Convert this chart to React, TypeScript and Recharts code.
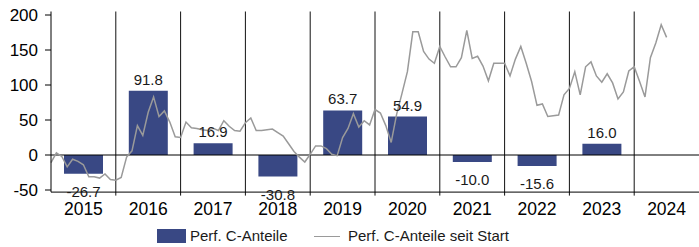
import React from "react";
import { ComposedChart, Bar, Line, XAxis, YAxis, ReferenceLine, LabelList } from "recharts";

const YEARS = ["2015", "2016", "2017", "2018", "2019", "2020", "2021", "2022", "2023", "2024"];
const PERF_C = [-26.7, 91.8, 16.9, -30.8, 63.7, 54.9, -10.0, -15.6, 16.0, null];
// monthly values, Jan 2015 .. Jul 2024
const PERF_SEIT_START = [
  -11, 3, -2, -17, -6, -9, -14, -31, -31, -33, -27, -35,
  -36, -32, -3, 6, 42, 28, 61, 83, 55, 63, 47, 26,
  25, 47, 39, 38, 36, 35, 38, 35, 49, 41, 35, 34,
  46, 53, 35, 35, 36, 37, 32, 27, 16, 5, -3, -10,
  1, 13, 13, 9, 1, -1, 25, 38, 59, 40, 49, 43,
  65, 60, 42, 18, 58, 88, 119, 176, 176, 148, 137, 131,
  155, 140, 126, 126, 139, 178, 138, 141, 127, 106, 131, 131,
  131, 113, 137, 155, 131, 105, 71, 73, 55, 56, 57, 86,
  95, 119, 86, 126, 133, 113, 104, 116, 103, 80, 90, 120,
  126, 105, 83, 139, 160, 186, 168,
];
const Y_TICKS = [-50, 0, 50, 100, 150, 200];
const BOUNDARIES = [1, 2, 3, 4, 5, 6, 7, 8, 9];

const barData = YEARS.map((year, i) => ({ year, perf: PERF_C[i] }));
const lineData = PERF_SEIT_START.map((v, i) => ({ t: i / 12, v }));

const BAR_COLOR = "#394884";
const LINE_COLOR = "#9a9a9a";

function BarLabel(props: any) {
  const { x, y, width, height, value } = props;
  if (value == null) return null;
  const v = Number(value);
  const top = Math.min(y, y + height);
  const bottom = Math.max(y, y + height);
  const ty = v >= 0 ? top - 6 : bottom + 23;
  return (
    <text x={x + width / 2} y={ty} textAnchor="middle" fontSize={15} fill="#1a1a1a">
      {v.toFixed(1)}
    </text>
  );
}

export default function App() {
  return (
    <div style={{ position: "absolute", left: 0, top: 0, width: 699, height: 247, fontFamily: "'Liberation Sans', Arial, sans-serif", background: "#fff" }}>
      <ComposedChart width={699} height={247} data={barData} margin={{ top: 11.5, right: 0, bottom: 24.9, left: 0 }}>
        <XAxis xAxisId="cat" dataKey="year" interval={0} tickLine={false} tickMargin={4} axisLine={{ stroke: "#000" }} tick={{ fontSize: 17.5, fill: "#000" }} height={30} />
        <XAxis xAxisId="num" dataKey="t" type="number" domain={[0, 10]} hide />
        <YAxis domain={[-53, 205]} ticks={Y_TICKS} width={51} allowDataOverflow tickSize={6} tickMargin={7} tick={{ fontSize: 17, fill: "#000" }} axisLine={{ stroke: "#000" }} tickLine={{ stroke: "#000" }} />
        {BOUNDARIES.map((k) => (
          <ReferenceLine key={k} xAxisId="num" segment={[{ x: k, y: -58 }, { x: k, y: 205 }]} ifOverflow="visible" stroke="#111" />
        ))}
        <ReferenceLine xAxisId="num" y={0} stroke="#000" />
        <Bar xAxisId="cat" dataKey="perf" fill={BAR_COLOR} barSize={39} isAnimationActive={false}>
          <LabelList dataKey="perf" content={BarLabel} />
        </Bar>
        <Line xAxisId="num" data={lineData} dataKey="v" type="linear" stroke={LINE_COLOR} strokeWidth={1.5} dot={false} activeDot={false} isAnimationActive={false} />
      </ComposedChart>
      <div style={{ position: "absolute", left: 157, top: 229, width: 29, height: 14, background: BAR_COLOR }} />
      <div style={{ position: "absolute", left: 190, top: 228, fontSize: 15, lineHeight: "16px", color: "#1a1a1a" }}>Perf. C-Anteile</div>
      <div style={{ position: "absolute", left: 314, top: 235.5, width: 26, height: 1.5, background: LINE_COLOR }} />
      <div style={{ position: "absolute", left: 348, top: 228, fontSize: 15, lineHeight: "16px", color: "#1a1a1a" }}>Perf. C-Anteile seit Start</div>
    </div>
  );
}
